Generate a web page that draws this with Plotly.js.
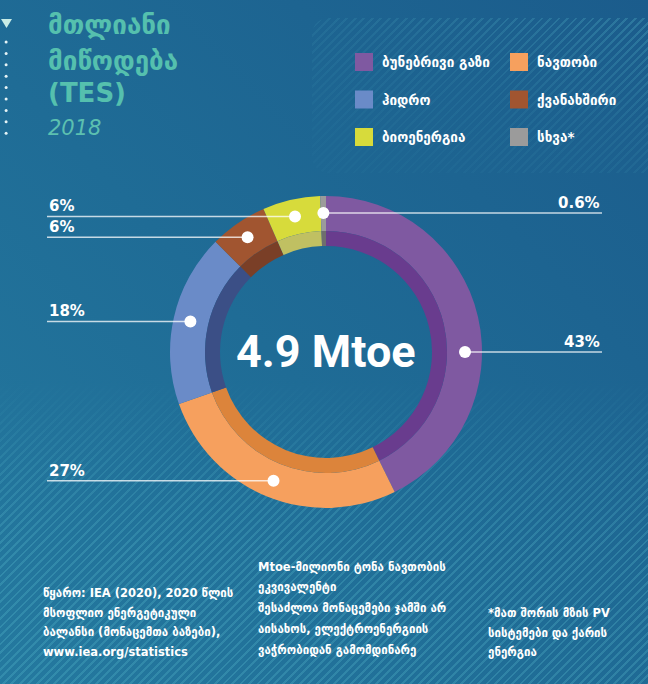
<!DOCTYPE html>
<html>
<head>
<meta charset="utf-8">
<script src="https://cdn.plot.ly/plotly-3.0.1.min.js"></script>
<style>
  html, body { margin: 0; padding: 0; background: #1d6690; }
  #wrap { position: relative; width: 648px; height: 684px; overflow: hidden;
    background: linear-gradient(to top right, #24799f 0%, #1f6c96 45%, #1b5c8c 100%); }
  .hatch { position: absolute; pointer-events: none;
    background: repeating-linear-gradient(135deg, rgba(95,195,210,0.26) 0px, rgba(95,195,210,0.26) 2px, transparent 2px, transparent 6px); }
  #hb { left: 0; top: 380px; width: 648px; height: 304px;
    -webkit-mask-image: linear-gradient(to bottom, transparent 0%, rgba(0,0,0,0.7) 30%, black 55%);
    mask-image: linear-gradient(to bottom, transparent 0%, rgba(0,0,0,0.7) 30%, black 55%); }
  #hl { left: 312px; top: 18px; width: 350px; height: 155px; border-radius: 16px;
    -webkit-mask-image: linear-gradient(200deg, black 5%, rgba(0,0,0,0.4) 45%, rgba(0,0,0,0.15) 85%);
    mask-image: linear-gradient(200deg, black 5%, rgba(0,0,0,0.4) 45%, rgba(0,0,0,0.15) 85%); }
  #chart { position: absolute; left: 0; top: 0; width: 648px; height: 684px; }
</style>
</head>
<body>
<div id="wrap">
  <div class="hatch" id="hb"></div>
  <div class="hatch" id="hl"></div>
  <div id="chart"></div>
</div>
<script>
// ---- data ----
const categories = ['ბუნებრივი გაზი', 'ნავთობი', 'ჰიდრო', 'ქვანახშირი', 'ბიოენერგია', 'სხვა*'];
const shares = [43, 27, 18, 6, 6, 0.6];
const colors = ['#7f59a1', '#f6a05e', '#6a8bc8', '#a15530', '#d7db3b', '#9b9b9b'];
const innerColors = ['#693c8e', '#dc843b', '#3b4f86', '#7a3f27', '#c0c062', '#6e6e6e'];
const centerLabel = '4.9 Mtoe';
const titleLines = ['მთლიანი', 'მიწოდება', '(TES)'];
const yearLabel = '2018';
const sourceLines = ['წყარო: IEA (2020), 2020 წლის', 'მსოფლიო ენერგეტიკული', 'ბალანსი (მონაცემთა ბაზები),', 'www.iea.org/statistics'];
const noteLines = ['Mtoe-მილიონი ტონა ნავთობის', 'ეკვივალენტი', 'შესაძლოა მონაცემები ჯამში არ', 'აისახოს, ელექტროენერგიის', 'ვაჭრობიდან გამომდინარე'];
const otherLines = ['*მათ შორის მზის PV', 'სისტემები და ქარის', 'ენერგია'];

// ---- layout geometry (pixels) ----
const W = 648, H = 684;
const CX = 326, CY = 352, R_OUT = 156, R_MID = 121, R_IN = 106, R_DOT = 139;
const px = x => x / W, py = y => 1 - y / H;
const dom = r => ({ x: [px(CX - r), px(CX + r)], y: [py(CY + r), py(CY - r)] });
const FONT = 'DejaVu Sans';

const pieBase = { type: 'pie', values: shares, labels: categories, sort: false,
  direction: 'clockwise', rotation: 0, textinfo: 'none', hoverinfo: 'skip', showlegend: false };
const traces = [
  Object.assign({}, pieBase, { marker: { colors: colors, line: { width: 0 } }, hole: R_MID / R_OUT, domain: dom(R_OUT) }),
  Object.assign({}, pieBase, { marker: { colors: innerColors, line: { width: 0 } }, hole: R_IN / R_MID, domain: dom(R_MID) })
];

const shapes = [], annotations = [];
const txt = (text, x, y, opts) => annotations.push(Object.assign({ text, x: px(x), y: py(y), xref: 'paper', yref: 'paper',
  showarrow: false, xanchor: 'left', yanchor: 'middle', font: { family: FONT, size: 13, color: '#ffffff', weight: 'bold' } }, opts || {}));

// leader lines, dots and percentage labels derived from the slice angles
const total = shares.reduce((a, b) => a + b, 0);
let cum = 0;
shares.forEach((v, i) => {
  const a0 = cum / total * 360, a1 = (cum + v) / total * 360;
  cum += v;
  let ang = (a0 + a1) / 2;
  if (a0 < 90 && a1 > 90) ang = 90;
  const rad = ang * Math.PI / 180;
  const dx = CX + R_DOT * Math.sin(rad), dy = CY - R_DOT * Math.cos(rad);
  const left = Math.sin(rad) < -0.05;
  const lx = left ? 47 : 602;
  shapes.push({ type: 'line', xref: 'paper', yref: 'paper', x0: px(lx), x1: px(dx), y0: py(dy), y1: py(dy),
    line: { color: 'rgba(255,255,255,0.75)', width: 1.5 }, layer: 'above' });
  shapes.push({ type: 'circle', xref: 'paper', yref: 'paper', x0: px(dx - 6), x1: px(dx + 6), y0: py(dy + 6), y1: py(dy - 6),
    fillcolor: '#ffffff', line: { width: 0 }, layer: 'above' });
  txt(v + '%', lx, dy - 10, { xanchor: left ? 'left' : 'right', font: { family: FONT, size: 15, color: '#ffffff', weight: 'bold' } });
});

// center label
txt(centerLabel, CX, CY - 1, { xanchor: 'center', font: { family: 'Roboto, sans-serif', size: 45, color: '#ffffff', weight: 'bold' } });

// title
const titleY = [25, 61, 93];
titleLines.forEach((t, i) => txt(t, 46, titleY[i], { font: { family: FONT, size: 26, color: '#55c0ae', weight: 'bold' } }));
txt(yearLabel, 46, 128, { font: { family: FONT, size: 21, color: '#5cc0b0', style: 'italic', weight: 'normal' } });

// left decoration
shapes.push({ type: 'path', xref: 'paper', yref: 'paper', fillcolor: '#c8ece6', line: { width: 0 },
  path: 'M ' + px(1) + ',' + py(19) + ' L ' + px(12) + ',' + py(19) + ' L ' + px(6.5) + ',' + py(28) + ' Z' });
for (let k = 0; k < 9; k++) {
  const yy = 42 + k * 11.4;
  shapes.push({ type: 'circle', xref: 'paper', yref: 'paper', x0: px(4.6), x1: px(7.6), y0: py(yy + 1.5), y1: py(yy - 1.5), fillcolor: '#e6f4f6', line: { width: 0 } });
}

// legend (manual 2-column grid)
categories.forEach((c, i) => {
  const col = i % 2, row = Math.floor(i / 2);
  const x0 = 355 + col * 155, y0 = 53 + row * 37.5;
  shapes.push({ type: 'rect', xref: 'paper', yref: 'paper', x0: px(x0), x1: px(x0 + 18), y0: py(y0 + 18), y1: py(y0),
    fillcolor: colors[i], line: { width: 0 } });
  txt(c, x0 + 25, y0 + 9, { font: { family: FONT, size: 13.5, color: '#ffffff', weight: 'bold' } });
});

// footnotes
const FN = 11.5;
const srcY = [593, 613, 632, 652];
sourceLines.forEach((t, i) => txt(t, 41, srcY[i], { font: { family: FONT, size: FN, color: '#ffffff', weight: 'bold' } }));
const noteY = [567, 587, 608, 629, 650];
noteLines.forEach((t, i) => txt(t, 256, noteY[i], { font: { family: FONT, size: FN, color: '#ffffff', weight: 'bold' } }));
const othY = [613, 633, 652];
otherLines.forEach((t, i) => txt(t, 486, othY[i], { font: { family: FONT, size: FN, color: '#ffffff', weight: 'bold' } }));

const layout = {
  width: W, height: H, margin: { l: 0, r: 0, t: 0, b: 0, pad: 0 },
  paper_bgcolor: 'rgba(0,0,0,0)', plot_bgcolor: 'rgba(0,0,0,0)',
  showlegend: false, shapes: shapes, annotations: annotations
};
Plotly.newPlot('chart', traces, layout, { staticPlot: true, displayModeBar: false });
</script>
</body>
</html>
